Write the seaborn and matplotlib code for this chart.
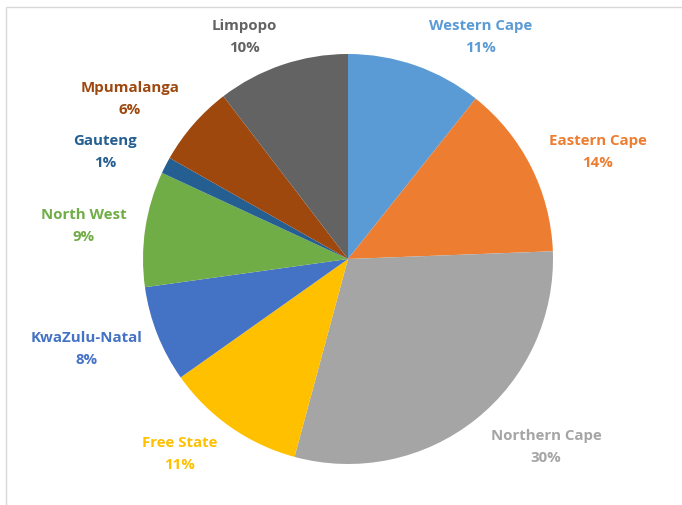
import matplotlib
matplotlib.use("Agg")
import matplotlib.pyplot as plt
import seaborn as sns
from matplotlib.patches import Rectangle

# data, clockwise from 12 o'clock (percent of total)
provinces = ["Western Cape", "Eastern Cape", "Northern Cape", "Free State",
             "KwaZulu-Natal", "North West", "Gauteng", "Mpumalanga", "Limpopo"]
shares = [10.7, 13.7, 29.8, 11.0, 7.6, 9.1, 1.3, 6.4, 10.4]
colors = ["#5B9BD5", "#ED7D31", "#A5A5A5", "#FFC000", "#4472C4",
          "#70AD47", "#255E91", "#9E480E", "#636363"]

# label centres in pixels (x, y from top)
label_pos = [(481, 37), (598, 152), (546, 447), (180, 454), (87, 349),
             (84, 226), (105, 152), (130, 99), (244, 37)]

W, H = 682, 505
CX, CY, R = 348, 259, 205

sns.set_theme(style="white")
plt.rcParams['font.family'] = ['Open Sans', 'DejaVu Sans']

fig = plt.figure(figsize=(W / 100, H / 100), dpi=100)
ax = fig.add_axes([0, 0, 1, 1])

# thin frame around the chart area
ax.add_patch(Rectangle((6, -10), W + 20, H - 7 + 10, fill=False,
                       edgecolor='#D9D9D9', linewidth=1))

ax.pie(shares, colors=sns.color_palette(colors), startangle=90,
       counterclock=False, center=(CX, H - CY), radius=R,
       wedgeprops={'linewidth': 0}, frame=True)
ax.set_xlim(0, W)
ax.set_ylim(0, H)
ax.set_aspect('equal')
ax.axis('off')

for name, val, col, (x, y) in zip(provinces, shares, colors, label_pos):
    ax.text(x, H - y, f"{name}\n{val:.0f}%", color=col, ha='center',
            va='center', fontsize=10.8, fontweight='bold', linespacing=1.65)

fig.savefig("out.png", dpi=100)
